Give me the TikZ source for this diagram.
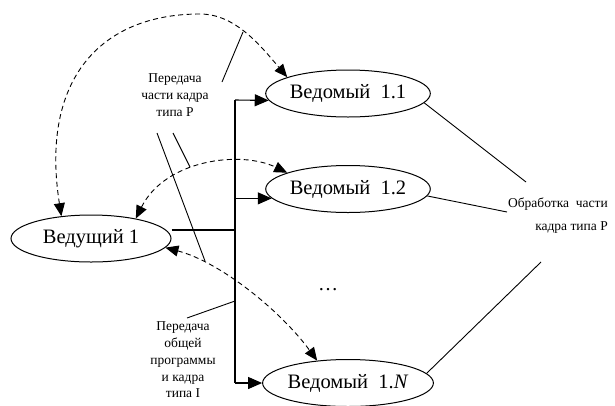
\documentclass[tikz,border=0pt]{standalone}
\usepackage{fontspec}
\setmainfont{Liberation Serif}
\usetikzlibrary{shapes.geometric,arrows.meta}
\tikzstyle{unit} = [ellipse, draw, line width=1pt, minimum width=160pt,
    minimum height=47pt, inner sep=0pt, font=\fontsize{20.5}{24}\selectfont]
\tikzstyle{note} = [align=center, inner sep=0pt,
    font=\fontsize{13.5}{16.7}\selectfont]
\tikzstyle{line} = [draw, line width=1.1pt, -{Triangle[length=14pt,width=12pt]}]
\tikzstyle{link} = [draw, line width=0.9pt, dash pattern=on 5pt off 3.5pt,
    {Triangle[length=13pt,width=11pt]}-{Triangle[length=13pt,width=11pt]}]
\tikzstyle{lead} = [draw, line width=0.9pt]

\begin{document}
\begin{tikzpicture}[x=1pt, y=-1pt]
    \useasboundingbox (0,0) rectangle (615,405);
    % Place nodes
    % Master and slaves
    \node [unit] (M) at (91,238.5) {Ведущий 1};
    \node [unit] (S1) at (348,93.5) {Ведомый\ \ 1.1};
    \node [unit] (S2) at (348,189) {Ведомый\ \ 1.2};
    \node [unit] (SN) at (348,383) {Ведомый\ \ 1.\textit{N}};
    \node [font=\fontsize{20}{24}\selectfont] (dots) at (328,290) {\ldots};

    % Notes
    \node [note] (lp) at (175,95) {Передача\\части кадра\\типа P};
    \node [note] (li) at (183,360) {Передача\\общей\\программы\\и кадра\\типа I};
    \node [note, align=right, anchor=east, font=\fontsize{13.5}{23}\selectfont]
        (lr) at (608,216) {Обработка\ \ части\\кадра типа P};

    % Bus points and leader ends
    \coordinate (b1) at (235,100);
    \coordinate (bm) at (235,230);
    \coordinate (bi) at (235,301);
    \coordinate (bN) at (235,383);
    \coordinate (p1) at (222,82);
    \coordinate (p2) at (243,32);
    \coordinate (p3) at (157,133);
    \coordinate (p4) at (205,261);
    \coordinate (p5) at (173,133);
    \coordinate (p6) at (190,167);
    \coordinate (i1) at (187,318);
    \coordinate (r1) at (526,182);
    \coordinate (r2) at (507,212);
    \coordinate (r3) at (541,262);

    % Draw edges
    % Bus
    \path [lead, line width=1.1pt] (b1) -- (bN);
    \path [lead, line width=1.1pt] (M.east |- bm) -- (bm);
    \path [line] (b1) -- (S1.185);
    \path [line] (b1 |- S2.187) -- (S2.187);
    \path [line] (bN) -- (SN.west);

    % Exchange
    \path [link] (M.143) .. controls (40,80) and (100,14) .. (200,14)
        .. controls (235,14) and (260,45) .. (S1.165);
    \path [link] (M.24) .. controls (165,160) and (240,150) .. (S2.165);
    \path [link] (M.-7) .. controls (220,262) and (280,310) .. (SN.144);

    % Leaders
    \path [lead] (p1) -- (p2);
    \path [lead] (p3) -- (p4);
    \path [lead] (p5) -- (p6);
    \path [lead] (i1) -- (bi);
    \path [lead] (S1.-7) -- (r1);
    \path [lead] (S2.-5) -- (r2);
    \path [lead] (SN.7) -- (r3);
\end{tikzpicture}
\end{document}
